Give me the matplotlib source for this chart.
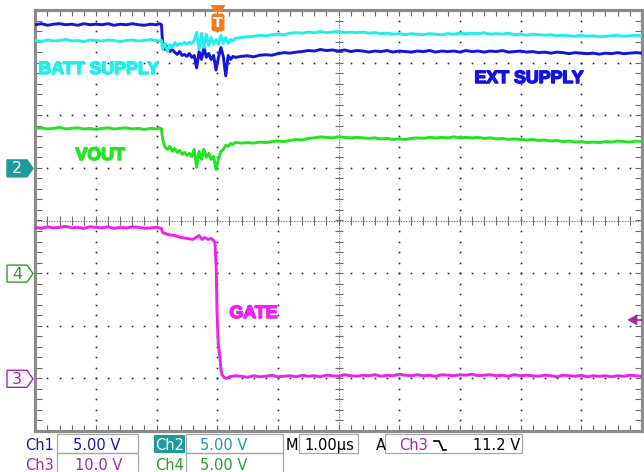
import matplotlib
matplotlib.use("Agg")
import numpy as np
import matplotlib.pyplot as plt
import matplotlib.patheffects as pe
from matplotlib.patches import Polygon, Rectangle, FancyBboxPatch
from matplotlib.collections import LineCollection

# ---------------- data (time in µs, trigger at 0; values in volts) ----------------
t_pre = [-3.0, -2.9, -2.8, -2.7, -2.6, -2.5, -2.4, -2.3, -2.2, -2.1,
         -2.0, -1.9, -1.8, -1.7, -1.6, -1.5, -1.4, -1.3, -1.2, -1.1,
         -1.0, -0.95, -0.92]
t_mid = [-0.9, -0.86, -0.82, -0.78, -0.74, -0.7, -0.66, -0.62, -0.58, -0.54,
         -0.5, -0.46, -0.42, -0.38, -0.34, -0.3, -0.26, -0.22, -0.18, -0.14,
         -0.1, -0.06, -0.02, 0.02, 0.06, 0.1, 0.14, 0.18, 0.22, 0.26,
         0.3]
t_post = [0.4, 0.5, 0.6, 0.7, 0.8, 0.9, 1.0, 1.1, 1.2, 1.3,
          1.4, 1.5, 1.6, 1.7, 1.8, 1.9, 2.0, 2.1, 2.2, 2.3,
          2.4, 2.5, 2.6, 2.7, 2.8, 2.9, 3.0, 3.1, 3.2, 3.3,
          3.4, 3.5, 3.6, 3.7, 3.8, 3.9, 4.0, 4.1, 4.2, 4.3,
          4.4, 4.5, 4.6, 4.7, 4.8, 4.9, 5.0, 5.1, 5.2, 5.3,
          5.4, 5.5, 5.6, 5.7, 5.8, 5.9, 6.0, 6.1, 6.2, 6.3,
          6.4, 6.5, 6.6, 6.7, 6.8, 6.9, 7.0]

# Ch1 - EXT SUPPLY
ch1_pre = [13.6, 13.7, 13.55, 13.65, 13.7, 13.6, 13.65, 13.55, 13.7, 13.6,
           13.65, 13.6, 13.7, 13.55, 13.65, 13.6, 13.7, 13.6, 13.55, 13.65,
           13.6, 13.7, 13.6]
ch1_mid = [11.73, 11.25, 11.54, 11.06, 11.25, 10.97, 10.78, 11.06, 10.68, 10.78,
           10.59, 10.87, 10.5, 10.68, 9.5, 11.06, 10.3, 11.44, 10.5, 10.87,
           10.3, 10.68, 9.3, 10.5, 11.44, 10.59, 8.74, 10.68, 10.3, 10.59,
           10.5]
ch1_post = [10.6, 10.65, 10.55, 10.7, 10.75, 10.7, 10.85, 10.95, 10.9, 11.0,
            11.05, 11.15, 11.1, 11.25, 11.15, 11.2, 11.1, 11.2, 11.05, 11.15,
            11.1, 11.0, 11.1, 11.05, 11.15, 11.0, 11.1, 11.05, 11.0, 11.1,
            11.05, 11.15, 11.0, 11.1, 11.05, 11.1, 11.0, 11.15, 11.05, 11.1,
            11.0, 11.1, 11.05, 11.15, 11.0, 11.05, 11.1, 11.0, 11.05, 10.95,
            11.0, 10.9, 11.0, 10.95, 10.85, 10.95, 10.9, 10.85, 10.9, 10.8,
            10.9, 10.85, 10.95, 10.85, 10.9, 10.95, 10.9]

# Ch2 - BATT SUPPLY
ch2_pre = [12.1, 12.0, 12.15, 12.05, 12.1, 12.2, 12.05, 12.1, 12.0, 12.15,
           12.1, 12.05, 12.15, 12.1, 12.0, 12.1, 12.15, 12.05, 12.1, 12.2,
           12.1, 12.05, 12.1]
ch2_mid = [11.25, 11.82, 11.06, 11.73, 11.44, 11.92, 11.63, 11.82, 11.73, 11.92,
           11.73, 11.92, 11.82, 12.11, 12.87, 11.25, 12.78, 11.44, 12.68, 11.63,
           12.4, 11.73, 12.2, 11.73, 12.59, 11.82, 12.4, 11.82, 12.2, 12.11,
           12.3]
ch2_post = [12.4, 12.45, 12.5, 12.6, 12.55, 12.65, 12.7, 12.65, 12.8, 12.85,
            12.8, 12.9, 12.85, 12.95, 12.85, 12.9, 12.95, 12.85, 12.9, 12.85,
            12.9, 12.8, 12.85, 12.75, 12.8, 12.7, 12.75, 12.65, 12.75, 12.7,
            12.65, 12.75, 12.7, 12.65, 12.75, 12.7, 12.8, 12.75, 12.8, 12.75,
            12.85, 12.7, 12.75, 12.7, 12.8, 12.65, 12.7, 12.6, 12.7, 12.65,
            12.6, 12.65, 12.55, 12.6, 12.55, 12.5, 12.6, 12.5, 12.55, 12.45,
            12.5, 12.55, 12.6, 12.5, 12.55, 12.6, 12.55]

# Ch4 - VOUT
ch4_pre = [13.75, 13.8, 13.7, 13.75, 13.85, 13.7, 13.75, 13.8, 13.7, 13.75,
           13.65, 13.75, 13.8, 13.7, 13.75, 13.8, 13.7, 13.75, 13.65, 13.75,
           13.7, 13.8, 13.7]
ch4_mid = [12.7, 11.95, 11.76, 12.04, 11.57, 11.85, 11.47, 11.66, 11.28, 11.47,
           11.19, 11.38, 11.09, 11.76, 10.05, 11.57, 10.8, 11.76, 11.0, 11.38,
           10.8, 11.09, 9.85, 10.8, 11.57, 11.76, 12.14, 12.04, 12.33, 12.23,
           12.42]
ch4_post = [12.35, 12.4, 12.35, 12.45, 12.4, 12.5, 12.55, 12.5, 12.6, 12.7,
            12.65, 12.8, 12.85, 12.95, 12.9, 12.85, 12.95, 12.9, 12.85, 12.9,
            12.85, 12.8, 12.85, 12.75, 12.8, 12.7, 12.75, 12.7, 12.8, 12.85,
            12.8, 12.9, 12.85, 12.9, 12.85, 12.95, 12.85, 12.9, 12.85, 12.9,
            12.8, 12.85, 12.75, 12.8, 12.7, 12.75, 12.7, 12.65, 12.7, 12.6,
            12.65, 12.55, 12.6, 12.5, 12.55, 12.45, 12.5, 12.4, 12.45, 12.4,
            12.5, 12.45, 12.55, 12.5, 12.45, 12.55, 12.5]

# Ch3 - GATE
ch3_pre = [28.7, 28.5, 28.8, 28.6, 28.7, 28.9, 28.6, 28.7, 28.5, 28.8,
           28.7, 28.6, 28.8, 28.5, 28.7, 28.6, 28.8, 28.7, 28.5, 28.6,
           28.7, 28.6, 28.5]
t_gate_mid = [-0.9, -0.8, -0.7, -0.6, -0.5, -0.4, -0.3, -0.25, -0.2, -0.15,
              -0.1, -0.06, -0.038, -0.016, -0.005, 0.016, 0.04, 0.061, 0.078, 0.11,
              0.15, 0.2, 0.3]
ch3_mid = [27.7, 27.3, 27.15, 26.77, 26.6, 26.4, 27.15, 26.4, 26.77, 26.4,
           26.6, 26.2, 25.8, 20.7, 13.1, 6.6, 4.5, 1.7, 0.7, 0.2,
           0.0, 0.3, 0.5]
ch3_post = [0.4, 0.2, 0.5, 0.3, 0.4, 0.6, 0.3, 0.4, 0.5, 0.3,
            0.6, 0.4, 0.5, 0.3, 0.6, 0.5, 0.4, 0.7, 0.5, 0.4,
            0.6, 0.5, 0.7, 0.4, 0.6, 0.5, 0.8, 0.6, 0.5, 0.7,
            0.5, 0.6, 0.4, 0.7, 0.6, 0.5, 0.7, 0.6, 0.8, 0.5,
            0.6, 0.7, 0.5, 0.6, 0.4, 0.7, 0.5, 0.6, 0.5, 0.4,
            0.6, 0.5, 0.3, 0.6, 0.5, 0.4, 0.6, 0.3, 0.5, 0.4,
            0.5, 0.3, 0.5, 0.4, 0.6, 0.5, 0.4]

# channel settings (V/div and ground position in divisions)
ch_scale = {"ch1": 5.0, "ch2": 5.0, "ch3": 10.0, "ch4": 5.0}
ch_pos = {"ch1": 1.0, "ch2": 1.0, "ch3": -3.0, "ch4": -1.0}
trig_level = 11.2  # V on ch3

labels_row1 = [("Ch1", "5.00 V"), ("Ch2", "5.00 V")]
labels_row2 = [("Ch3", "10.0 V"), ("Ch4", "5.00 V")]
timebase = "1.00µs"

# ---------------- colours ----------------
C1 = "#1414E2"
C2 = "#22EEEE"
C3 = "#F020F0"
C4 = "#20E620"
T1 = "#1C1C9C"
T2 = "#1E9C9C"
T3 = "#A826A8"
T4 = "#28A028"
GRID = "#2a2a2a"
FRAME = "#8c8c8c"

fig = plt.figure(figsize=(6.44, 4.72), dpi=100)
fig.patch.set_facecolor("white")
ax = fig.add_axes([35.3 / 644, (472 - 431) / 472, 606.5 / 644, 421 / 472])
ax.set_xlim(-3, 7)
ax.set_ylim(-4, 4)
ax.set_xticks([])
ax.set_yticks([])
for s in ax.spines.values():
    s.set_color(FRAME)
    s.set_linewidth(2.3)

# graticule dots
xs = np.arange(-3, 7.0001, 0.2)
ys = np.arange(-4, 4.0001, 0.2)
for gy in [-3, -2, -1, 1, 2, 3]:
    ax.plot(xs, np.full_like(xs, gy), ls="none", marker="s", ms=1.2,
            mec="none", mfc=GRID, zorder=1)
for gx in [-2, -1, 0, 1, 3, 4, 5, 6]:
    ax.plot(np.full_like(ys, gx), ys, ls="none", marker="s", ms=1.2,
            mec="none", mfc=GRID, zorder=1)
# centre cross
ax.plot([-3, 7], [0, 0], color="#7a7a7a", lw=0.8, ls=(0, (1.2, 1.2)), zorder=1)
ax.plot([2, 2], [-4, 4], color="#7a7a7a", lw=0.8, ls=(0, (1.2, 1.2)), zorder=1)
segs = []
dx = 4 / 60.65
dy = 4 / 52.6
for x in xs:
    segs.append([(x, -dy), (x, dy)])
    segs.append([(x, -4), (x, -4 + 1.6 * dy)])
    segs.append([(x, 4), (x, 4 - 1.6 * dy)])
for y in ys:
    segs.append([(2 - dx, y), (2 + dx, y)])
    segs.append([(-3, y), (-3 + 1.6 * dx, y)])
    segs.append([(7, y), (7 - 1.6 * dx, y)])
ax.add_collection(LineCollection(segs, colors="#6a6a6a", linewidths=0.8, zorder=1))


def to_div(key, vals):
    return ch_pos[key] + np.asarray(vals) / ch_scale[key]


t_main = np.array(t_pre + t_mid + t_post)
t_gate = np.array(t_pre + t_gate_mid + t_post)
lw = 2.1
ax.plot(t_gate, to_div("ch3", ch3_pre + ch3_mid + ch3_post), color=C3, lw=lw, zorder=3)
ax.plot(t_main, to_div("ch4", ch4_pre + ch4_mid + ch4_post), color=C4, lw=lw, zorder=3)
ax.plot(t_main, to_div("ch1", ch1_pre + ch1_mid + ch1_post), color=C1, lw=lw, zorder=3)
ax.plot(t_main, to_div("ch2", ch2_pre + ch2_mid + ch2_post), color=C2, lw=lw, zorder=4)

# ---------------- overlay (pixel coordinates) ----------------
ov = fig.add_axes([0, 0, 1, 1], zorder=5)
ov.set_xlim(0, 644)
ov.set_ylim(472, 0)
ov.axis("off")
ov.patch.set_alpha(0)

BOLD = dict(family="Liberation Sans", fontweight="bold", fontsize=12.8)


def label(x, y, s, c):
    ov.text(x, y, s, color=c, ha="left", va="baseline",
            path_effects=[pe.withStroke(linewidth=1.1, foreground=c)], **BOLD)


label(38.5, 74, "BATT SUPPLY", C2)
label(474.5, 83, "EXT SUPPLY", C1)
label(75.5, 160, "VOUT", C4)
label(229.5, 318, "GATE", C3)


def chan_marker(yc, txt, fill, edge, tcol):
    pts = [(7, yc - 8.5), (27, yc - 8.5), (33, yc), (27, yc + 8.5), (7, yc + 8.5)]
    ov.add_patch(Polygon(pts, closed=True, fc=fill, ec=edge, lw=1.0))
    ov.text(17, yc + 0.5, txt, color=tcol, ha="center", va="center",
            family="DejaVu Sans", fontsize=11.5)


def div_to_px(d):
    return 221 - d * 52.6


chan_marker(div_to_px(ch_pos["ch2"]), "2", T2, T2, "white")
chan_marker(div_to_px(ch_pos["ch4"]), "4", "white", T4, T4)
chan_marker(div_to_px(ch_pos["ch3"]), "3", "white", T3, T3)

# trigger level arrow (right side)
ty = div_to_px(ch_pos["ch3"] + trig_level / ch_scale["ch3"])
ov.add_patch(Polygon([(628, ty), (637, ty - 5), (637, ty + 5)], closed=True,
                     fc=T3, ec=T3, lw=0.5))
ov.plot([636, 642], [ty, ty], color=T3, lw=1.2)

# trigger position marker
tx = 217.3 + 60.65 * 0.0 + 0.7
ov.add_patch(Polygon([(tx - 7.5, 5), (tx + 7.5, 5), (tx + 3.5, 12), (tx - 3.5, 12)],
                     closed=True, fc="#F07C22", ec="none"))
ov.add_patch(FancyBboxPatch((tx - 6.5, 13.5), 13, 18, boxstyle="round,pad=0,rounding_size=3",
                            fc="#F07C22", ec="none"))
ov.text(tx, 23, "T", color="white", ha="center", va="center",
        family="DejaVu Sans", fontweight="bold", fontsize=10)

# ---------------- bottom readout panel ----------------
PF = dict(family="DejaVu Sans", fontsize=10.5)
BOXC = "#a8a8a8"
r1, r2 = 450, 469.5


def box(x0, x1, y0, y1):
    ov.add_patch(Rectangle((x0, y0), x1 - x0, y1 - y0, fc="none", ec=BOXC, lw=0.9))


box(57, 138, 434, 453)
box(186, 283, 434, 453)
box(299, 358, 434, 453)
box(385, 522, 434, 453)
box(57, 138, 453, 475)
box(186, 283, 453, 475)

ov.text(25, r1, labels_row1[0][0], color=T1, ha="left", va="baseline", **PF)
ov.text(97, r1, labels_row1[0][1], color=T1, ha="center", va="baseline", **PF)
ov.add_patch(Rectangle((154, 435), 31, 17.5, fc=T2, ec="none"))
ov.text(169.5, r1, labels_row1[1][0], color="white", ha="center", va="baseline", **PF)
ov.text(224, r1, labels_row1[1][1], color=T2, ha="center", va="baseline", **PF)
ov.text(292, r1, "M", color="black", ha="center", va="baseline", **PF)
ov.text(329, r1, timebase, color="black", ha="center", va="baseline", **PF)
ov.text(380.5, r1, "A", color="black", ha="center", va="baseline", **PF)
ov.text(399, r1, "Ch3", color=T3, ha="left", va="baseline", **PF)
ov.plot([434, 439, 443, 446], [441, 441, 450, 450], color="black", lw=1.2)
ov.text(520, r1, f"{trig_level:.1f} V", color="black", ha="right", va="baseline", **PF)

ov.text(25, r2, labels_row2[0][0], color=T3, ha="left", va="baseline", **PF)
ov.text(99, r2, labels_row2[0][1], color=T3, ha="center", va="baseline", **PF)
ov.text(155, r2, labels_row2[1][0], color=T4, ha="left", va="baseline", **PF)
ov.text(224, r2, labels_row2[1][1], color=T4, ha="center", va="baseline", **PF)

fig.savefig("out.png", dpi=100, facecolor="white")
